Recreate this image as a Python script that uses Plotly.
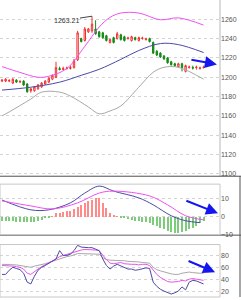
import plotly.graph_objects as go

# ---------------- data ----------------
idx = list(range(57))
open_ = [1196,1196,1196,1194,1197,1195,1196,1193,1186,1186,1188,1190,1193,1195,1198,1200,1209,1208,1209,1209,1210,1218,1240,1238,1247,1248,1250,1247,1246,1243,1236,1241,1240,1244,1242,1240,1238,1241,1238,1240,1239,1240,1236,1227,1225,1222,1220,1216,1214,1211,1214,1206,1210,1210,1210,1209,1210]
close = [1197,1198,1196.6,1198,1195,1195.6,1192,1185,1188,1190,1192,1194,1196,1199,1202,1210,1208,1209,1209.6,1210,1217,1246,1237,1250,1250,1255,1245,1242,1241,1238,1239,1236,1245,1239,1238,1240.6,1242,1239,1241,1240.6,1239.6,1237,1225,1223,1221,1219,1215,1213,1212,1214,1210,1212,1210.6,1209.5,1210.5,1209.6,1210.4]
high = [1198,1199,1198,1199,1198,1197,1197,1194,1189,1191,1193,1195,1197,1200,1203,1216,1211,1211,1211,1212,1219,1248,1241,1252,1251,1263.21,1259,1248,1247,1244,1240,1242,1247,1245,1243,1242,1243,1242,1242,1242,1241,1241,1237,1228,1226,1223,1221,1217,1215,1215,1215,1213,1212,1212,1212,1211,1212]
low = [1195,1195,1195,1193,1194,1194,1191,1184,1184,1185,1187,1189,1192,1194,1197,1199,1207,1207,1208,1208,1209,1217,1236,1237,1246,1246,1244,1241,1240,1237,1235,1235,1239,1238,1237,1239,1237,1238,1237,1239,1238,1236,1224,1222,1220,1218,1214,1212,1211,1210,1206,1205,1209,1208,1208,1208,1209]

upper_x = [0, 5, 10, 13, 18, 23, 27, 30, 33, 38, 44, 49, 56]
upper_v = [1211, 1205, 1200, 1201, 1209, 1232, 1252, 1262, 1266.5, 1266.5, 1259.5, 1261.5, 1254]
mid_x = [0, 8, 16, 22, 27, 33, 38, 44, 49, 56]
mid_v = [1186.7, 1189.7, 1194.9, 1202, 1208.2, 1218.5, 1227.7, 1234.9, 1233.8, 1225.6]
lower_x = [0, 2, 8, 11, 16, 19, 24, 27, 30, 33, 38, 42, 45, 49, 56]
lower_v = [1160, 1164.1, 1177.4, 1184.6, 1184.6, 1180.5, 1169.2, 1162.1, 1165.1, 1170.3, 1189.7, 1205.1, 1210.3, 1210.3, 1198]

dif_x = [0, 8, 13, 19, 23, 27, 31, 38, 42, 47, 51, 55]
dif_v = [9.4, 3.9, 3.9, 7.8, 13.3, 17.2, 14.4, 10.6, 6.7, 0.6, -2.2, -3.3]
dea_x = [0, 8, 14, 21, 27, 31, 41, 46, 51, 56]
dea_v = [8.9, 6.1, 4.4, 7.8, 13.3, 14.4, 11.7, 6.7, 0.6, -1.7]
macd_hist = [-2.5,-2.6,-2.6,-2.7,-2.8,-2.8,-2.9,-3.0,-3.0,-2.8,-2.3,-1.8,-1.0,-0.5,0.3,
             1.8,2.2,2.5,2.9,3.4,4.2,5.3,6.6,7.8,8.7,9.6,10.2,10.5,7.6,4.6,1.8,
             0.4,0.2,-0.3,-0.7,-1.3,-1.8,-2.3,-2.6,-2.8,-3.2,-3.8,-4.6,-5.5,-6.3,-7.2,-8.0,-8.6,-9.0,-9.0,-8.6,-8.0,-7.2,-6.2,-5.0,-3.8,-2.5]

k_line = [48,48,55,60,58,56,50,35,32,45,55,60,63,67,70,74,88,80,80,82,88,97,94,93,93,93,91,88,74,63,57,62,65,62,60,57,57,55,56,57,59,58,35,28,23,20,17,15,17,20,27,22,35,38,37,35,32]
d_line = [63,63,63,62,61,60,57,50,48,53,57,61,64,67,71,74,78,80,81,83,86,88,89,90,90,90,89,88,80,73,67,66,67,68,66,65,65,65,64,65,65,63,55,48,43,39,36,35,35,36,38,37,40,41,40,39,38]
j_line = [65,65,65,65,64,63,62,60,60,62,63,64,66,68,70,72,75,77,78,79,81,83,83,83,83,82,82,82,76,73,72,72,72,72,71,70,70,69,69,68,68,67,60,56,54,52,51,49,48,48,50,51,52,51,50,50,50]

price_ticks = [1100, 1120, 1140, 1160, 1180, 1200, 1220, 1240, 1260]
macd_ticks = [-10, 0, 10]
kdj_ticks = [20, 40, 60, 80]
peak_label = "1263.21"

# ---------------- figure ----------------
PURPLE = "#4a4aa6"
MAGENTA = "#f050f0"
GRAY = "#a8a8a8"
RED = "#f03030"
GREEN = "#168a16"
ARROW = "#1515f0"

fig = go.Figure()

fig.add_trace(go.Scatter(x=upper_x, y=upper_v, mode="lines", line=dict(color=MAGENTA, width=1, shape="spline"), xaxis="x", yaxis="y"))
fig.add_trace(go.Scatter(x=mid_x, y=mid_v, mode="lines", line=dict(color=PURPLE, width=1, shape="spline"), xaxis="x", yaxis="y"))
fig.add_trace(go.Scatter(x=lower_x, y=lower_v, mode="lines", line=dict(color=GRAY, width=1, shape="spline"), xaxis="x", yaxis="y"))
fig.add_trace(go.Candlestick(
    x=idx, open=open_, high=high, low=low, close=close,
    increasing=dict(line=dict(color=RED, width=1), fillcolor="white"),
    decreasing=dict(line=dict(color=GREEN, width=1), fillcolor=GREEN),
    whiskerwidth=0, xaxis="x", yaxis="y"))

fig.add_trace(go.Bar(x=idx, y=macd_hist, width=0.3,
                     marker=dict(color=["#ff8a8a" if v > 0 else "#7ccc7c" for v in macd_hist], line=dict(width=0)),
                     xaxis="x2", yaxis="y2"))
fig.add_trace(go.Scatter(x=dif_x, y=dif_v, mode="lines", line=dict(color=PURPLE, width=1, shape="spline"), xaxis="x2", yaxis="y2"))
fig.add_trace(go.Scatter(x=dea_x, y=dea_v, mode="lines", line=dict(color=MAGENTA, width=1, shape="spline"), xaxis="x2", yaxis="y2"))

fig.add_trace(go.Scatter(x=idx, y=j_line, mode="lines", line=dict(color=GRAY, width=1), xaxis="x3", yaxis="y3"))
fig.add_trace(go.Scatter(x=idx, y=d_line, mode="lines", line=dict(color=MAGENTA, width=1), xaxis="x3", yaxis="y3"))
fig.add_trace(go.Scatter(x=idx, y=k_line, mode="lines", line=dict(color=PURPLE, width=1), xaxis="x3", yaxis="y3"))

XR = [-0.56, 60.56]
XD = [0, 220 / 241]
xcommon = dict(range=XR, domain=XD, showgrid=False, zeroline=False, showticklabels=False, ticks="", showline=False, fixedrange=True)
ycommon = dict(side="right", showgrid=True, gridcolor="#d4d4d4", griddash="dot", gridwidth=1,
               zeroline=False, ticks="", showline=False,
               tickfont=dict(family="Liberation Sans, Arial", size=7, color="#555555"))

fig.update_layout(
    width=241, height=300, margin=dict(l=0, r=0, t=0, b=0),
    paper_bgcolor="white", plot_bgcolor="white", showlegend=False,
    boxgap=0.45,
    xaxis=dict(**xcommon, anchor="y", rangeslider=dict(visible=False)),
    xaxis2=dict(**xcommon, anchor="y2", matches="x"),
    xaxis3=dict(**xcommon, anchor="y3", matches="x"),
    yaxis=dict(**ycommon, anchor="x", domain=[1 - 178 / 300, 1], range=[1097.5, 1280], tickvals=price_ticks),
    yaxis2=dict(**ycommon, anchor="x2", domain=[1 - 237 / 300, 1 - 186 / 300], range=[-10, 18.3],
                tickvals=macd_ticks),
    yaxis3=dict(**ycommon, anchor="x3", domain=[0, 1 - 247 / 300], range=[10, 98.3], tickvals=kdj_ticks),
)

# frames / separators
shapes = [
    dict(type="line", xref="paper", yref="paper", x0=XD[1], x1=XD[1], y0=1 - 178 / 300, y1=1, line=dict(color="#b8b8b8", width=1)),
    dict(type="line", xref="paper", yref="paper", x0=0, x1=1, y0=1 - 178 / 300, y1=1 - 178 / 300, line=dict(color="#505050", width=1)),
    dict(type="line", xref="paper", yref="paper", x0=0, x1=1, y0=1 - 237.5 / 300, y1=1 - 237.5 / 300, line=dict(color="#505050", width=1)),
    dict(type="line", xref="paper", yref="paper", x0=1 - 1 / 241, x1=1 - 1 / 241, y0=0, y1=1 - 178 / 300, line=dict(color="#505050", width=1)),
    dict(type="rect", xref="paper", yref="paper", x0=0, x1=XD[1], y0=1 - 237 / 300, y1=1 - 186 / 300, line=dict(color="#c8c8c8", width=1)),
    dict(type="rect", xref="paper", yref="paper", x0=0, x1=XD[1], y0=0, y1=1 - 247 / 300, line=dict(color="#c8c8c8", width=1)),
]
fig.update_layout(shapes=shapes)

peak_i = high.index(max(high))
annotations = [
    dict(x=peak_i, y=max(high), xref="x", yref="y", text=peak_label, showarrow=True, arrowhead=0,
         arrowwidth=1, arrowcolor="#444444", ax=-26, ay=4,
         font=dict(family="Liberation Sans, Arial", size=7, color="#333333")),
    dict(x=59.7, y=1213.3, ax=52.2, ay=1218.5, xref="x", yref="y", axref="x", ayref="y", text="",
         showarrow=True, arrowhead=2, arrowsize=1.2, arrowwidth=2, arrowcolor=ARROW),
    dict(x=60.0, y=2.0, ax=50.8, ay=9.3, xref="x2", yref="y2", axref="x2", ayref="y2", text="",
         showarrow=True, arrowhead=2, arrowsize=1.2, arrowwidth=2, arrowcolor=ARROW),
    dict(x=59.2, y=51.7, ax=51.4, ay=71.7, xref="x3", yref="y3", axref="x3", ayref="y3", text="",
         showarrow=True, arrowhead=2, arrowsize=1.2, arrowwidth=2, arrowcolor=ARROW),
]
fig.update_layout(annotations=annotations, bargap=0)

fig.write_html("out.html")
